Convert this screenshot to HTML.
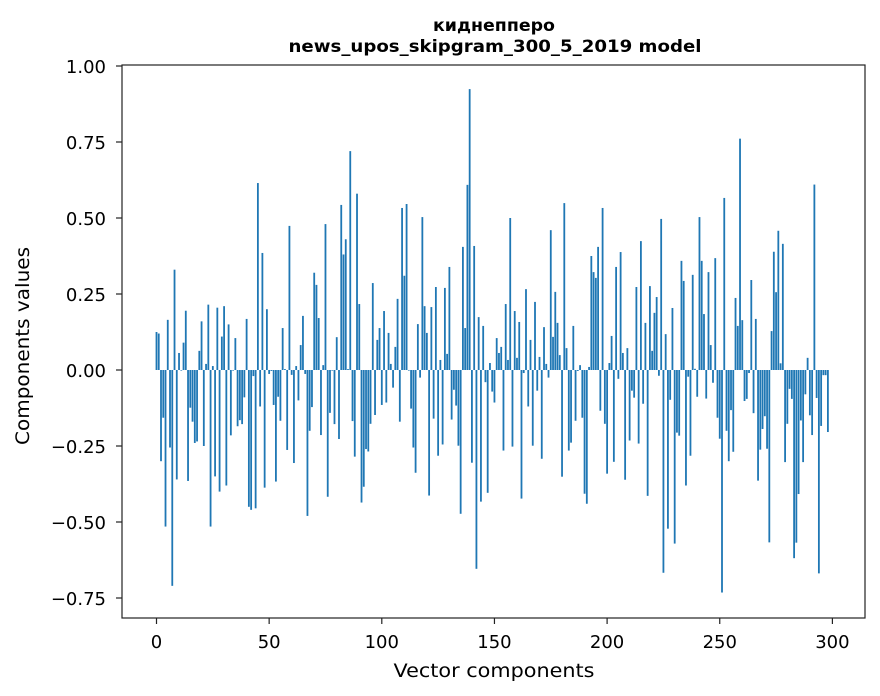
<!DOCTYPE html>
<html><head><meta charset="utf-8">
<style>
html,body{margin:0;padding:0;background:#fff;}
svg{display:block;font-family:"DejaVu Sans","Liberation Sans",sans-serif;}
</style></head>
<body>
<svg id="chart" width="880" height="696" viewBox="0 0 880 696" xmlns="http://www.w3.org/2000/svg">
<rect x="0" y="0" width="880" height="696" fill="#fff"/>
<text x="494" y="31" text-anchor="middle" font-size="17" font-weight="bold" fill="#000" textLength="122" lengthAdjust="spacingAndGlyphs">киднепперо</text>
<text x="495" y="52" text-anchor="middle" font-size="17" font-weight="bold" fill="#000" textLength="413" lengthAdjust="spacingAndGlyphs">news_upos_skipgram_300_5_2019 model</text>
<g id="bars"></g>
<g id="axes"></g>
<text x="494" y="677" text-anchor="middle" font-size="19" fill="#000" textLength="201" lengthAdjust="spacingAndGlyphs">Vector components</text>
<text x="0" y="0" transform="translate(29,346) rotate(-90)" text-anchor="middle" font-size="19" fill="#000" textLength="198" lengthAdjust="spacingAndGlyphs">Components values</text>
</svg>
<script>
const values = [
0.125,0.12,-0.30,-0.157,-0.515,0.165,-0.255,-0.71,0.33,-0.36,
0.056,-0.002,0.09,0.195,-0.365,-0.124,-0.17,-0.24,-0.235,0.063,
0.16,-0.25,0.02,0.215,-0.515,0.013,-0.35,0.205,-0.40,0.11,
0.21,-0.38,0.15,-0.215,-0.002,0.105,-0.185,-0.165,-0.178,-0.09,
0.168,-0.45,-0.46,-0.02,-0.455,0.615,-0.12,0.385,-0.387,0.20,
-0.013,-0.003,-0.115,-0.367,-0.088,-0.167,0.138,0.003,-0.263,0.474,
-0.016,-0.306,0.013,-0.10,0.082,0.178,-0.013,-0.48,-0.20,-0.122,
0.32,0.28,0.171,-0.214,0.016,0.48,-0.417,-0.141,-0.002,-0.178,
0.108,-0.227,0.543,0.38,0.43,0.003,0.72,-0.168,-0.285,0.58,
0.217,-0.436,-0.384,-0.26,-0.268,-0.177,0.286,-0.148,0.099,0.138,
-0.115,0.194,-0.107,0.122,0.02,-0.058,0.076,0.234,-0.17,0.533,
0.31,0.546,-0.002,-0.127,-0.255,-0.338,0.151,-0.025,0.503,0.21,
0.122,-0.413,0.207,-0.16,0.273,-0.282,0.033,-0.245,0.27,0.053,
0.339,-0.163,-0.065,-0.117,-0.249,-0.473,0.405,0.138,0.609,0.924,
-0.305,0.408,-0.654,0.174,-0.433,0.145,-0.04,-0.404,0.023,-0.071,
-0.107,0.105,0.056,0.076,-0.265,0.217,0.033,0.50,-0.252,0.194,
0.04,0.158,-0.423,-0.01,0.266,-0.12,0.099,-0.249,0.224,-0.068,
0.043,-0.292,0.141,0.02,-0.025,0.46,0.109,0.257,0.155,0.049,
-0.351,0.549,0.072,-0.265,-0.239,0.145,-0.167,-0.003,0.016,-0.157,
-0.407,-0.44,0.01,0.375,0.322,0.303,0.405,-0.134,0.533,-0.177,
-0.341,0.023,0.112,-0.302,0.339,-0.029,0.388,0.056,-0.361,0.072,
-0.232,-0.068,-0.091,0.273,-0.242,0.424,-0.111,0.155,-0.414,0.276,
0.063,0.188,0.24,-0.019,0.497,-0.667,0.118,-0.522,-0.098,0.204,
-0.571,-0.206,-0.216,0.359,0.293,-0.38,-0.022,-0.282,0.313,0.004,
-0.088,0.503,0.359,0.184,-0.094,0.322,0.082,-0.042,0.368,-0.157,
-0.226,-0.732,0.566,-0.2,-0.3,-0.132,-0.269,0.237,0.145,0.761,
0.164,-0.102,-0.095,-0.01,0.296,-0.142,0.168,-0.364,-0.262,-0.194,
-0.152,-0.259,-0.567,0.128,0.389,0.256,0.458,0.022,0.415,-0.303,
-0.177,-0.062,-0.095,-0.619,-0.568,-0.408,-0.166,-0.303,-0.08,0.04,
-0.149,-0.214,0.61,-0.092,-0.669,-0.184,-0.017,-0.017,-0.204
];
const xTicks = [0,50,100,150,200,250,300];
const yTicks = [1.00,0.75,0.50,0.25,0.00,-0.25,-0.50,-0.75];

const NS = "http://www.w3.org/2000/svg";
const L = 122, R = 865, T = 65, B = 618;
const x0 = 156.5, xPer = 2.253;
const yZero = 370, yPer = 304;
function xs(v){ return x0 + v * xPer; }
function ys(v){ return yZero - v * yPer; }

const barsG = document.getElementById('bars');
values.forEach(function(v, i){
  const r = document.createElementNS(NS, 'rect');
  const w = 0.8 * xPer;
  r.setAttribute('x', xs(i) - w/2);
  r.setAttribute('y', Math.min(ys(v), ys(0)));
  r.setAttribute('width', w);
  r.setAttribute('height', Math.abs(ys(v) - ys(0)));
  r.setAttribute('fill', '#1f77b4');
  
  
  barsG.appendChild(r);
});

const axesG = document.getElementById('axes');
const frame = document.createElementNS(NS, 'rect');
frame.setAttribute('x', L); frame.setAttribute('y', T);
frame.setAttribute('width', R - L); frame.setAttribute('height', B - T);
frame.setAttribute('fill', 'none'); frame.setAttribute('stroke', '#222'); frame.setAttribute('stroke-width', '1.2');


axesG.appendChild(frame);

xTicks.forEach(function(t){
  const ln = document.createElementNS(NS, 'line');
  ln.setAttribute('x1', xs(t)); ln.setAttribute('x2', xs(t));
  ln.setAttribute('y1', B); ln.setAttribute('y2', B + 6);
  ln.setAttribute('stroke', '#222'); ln.setAttribute('stroke-width', '1.2');
  
  
  axesG.appendChild(ln);
  const tx = document.createElementNS(NS, 'text');
  tx.setAttribute('x', xs(t)); tx.setAttribute('y', 648);
  tx.setAttribute('text-anchor', 'middle'); tx.setAttribute('font-size', '18');
  tx.textContent = String(t);
  
  
  axesG.appendChild(tx);
});

yTicks.forEach(function(t){
  const ln = document.createElementNS(NS, 'line');
  ln.setAttribute('x1', L - 6); ln.setAttribute('x2', L);
  ln.setAttribute('y1', ys(t)); ln.setAttribute('y2', ys(t));
  ln.setAttribute('stroke', '#222'); ln.setAttribute('stroke-width', '1.2');
  
  
  axesG.appendChild(ln);
  const tx = document.createElementNS(NS, 'text');
  tx.setAttribute('x', 106); tx.setAttribute('y', ys(t) + 7);
  tx.setAttribute('text-anchor', 'end'); tx.setAttribute('font-size', '18');
  tx.textContent = (t < 0 ? '\u2212' : '') + Math.abs(t).toFixed(2);
  
  
  axesG.appendChild(tx);
});
</script>
</body></html>
